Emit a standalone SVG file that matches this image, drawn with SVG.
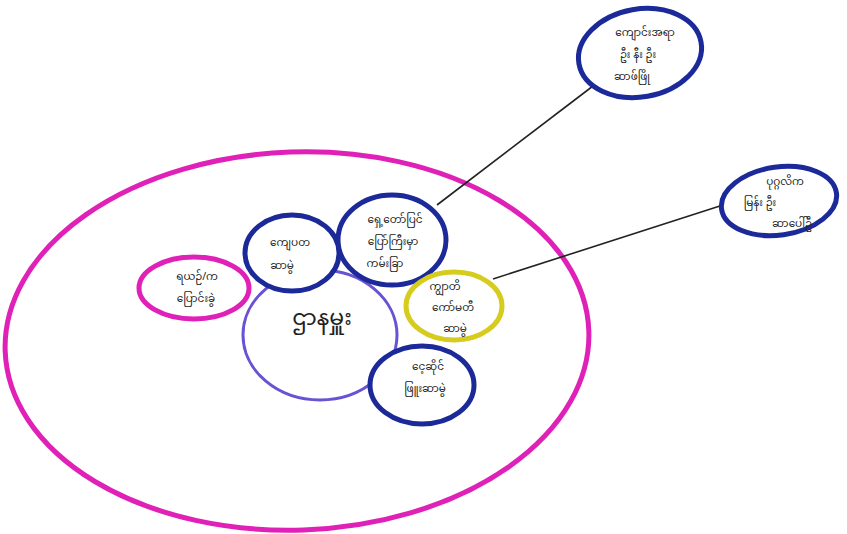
<svg xmlns="http://www.w3.org/2000/svg" width="847" height="534" viewBox="0 0 847 534">
<style>
.pink{fill:none;stroke:#e021b8;stroke-width:5}
.blue{fill:#fff;stroke:#1b2a98;stroke-width:5}
.yel{fill:#fff;stroke:#d6cc1e;stroke-width:5}
.pur{fill:#fff;stroke:#6a52d4;stroke-width:3}
.pinks{fill:#fff;stroke:#e021b8;stroke-width:5}
.lbl{font-family:"Noto Sans Myanmar","Padauk","Noto Sans","DejaVu Sans",sans-serif;font-size:10.5px;fill:#222;text-anchor:middle}
.big{font-size:22px}
.ln{stroke:#222;stroke-width:1.6;fill:none}
</style>
<rect width="847" height="534" fill="#fff"/>
<g id="outer"><ellipse class="pink" cx="297" cy="341" rx="292" ry="189" transform="rotate(-2 297 341)"/></g>
<g id="connectors">
<line class="ln" x1="437" y1="205" x2="593" y2="86"/>
<line class="ln" x1="493" y1="279" x2="723" y2="205"/>
</g>
<g id="n-topright"><ellipse class="blue" cx="640" cy="53" rx="62" ry="44" transform="rotate(-10 640 53)"/>
<text class="lbl" x="645" y="36">ကျောင်းအရာ</text><text class="lbl" x="638" y="58">ဦး နီး ဦး</text><text class="lbl" x="632" y="80">ဆာဖ်ဖြို</text></g>
<g id="n-right"><ellipse class="blue" cx="779" cy="201" rx="58" ry="34" transform="rotate(-8 779 201)"/>
<text class="lbl" x="785" y="185">ပုဂ္ဂလိက</text><text class="lbl" x="760" y="206">မြန်း ဦး</text><text class="lbl" x="792" y="227">ဆာပေါ်ဦ</text></g>
<g id="n-center"><ellipse class="pur" cx="320" cy="335" rx="77" ry="65"/>
<text class="lbl big" x="322" y="325">ဌာနမှူး</text></g>
<g id="n-left"><ellipse class="pinks" cx="194" cy="288" rx="55" ry="31"/>
<text class="lbl" x="197" y="280">ရယဉ်/က</text><text class="lbl" x="196" y="302">ပြောင်းခွဲ</text></g>
<g id="n-topleft"><ellipse class="blue" cx="292" cy="253" rx="47" ry="38"/>
<text class="lbl" x="290" y="246">ကျေပတ</text><text class="lbl" x="282" y="269">ဆာမွဲ</text></g>
<g id="n-topmid"><ellipse class="blue" cx="392" cy="240" rx="54" ry="45"/>
<text class="lbl" x="395" y="223">ရှေ့တော်ပြင်</text><text class="lbl" x="393" y="245">ပြော်ကြီးမှာ</text><text class="lbl" x="385" y="267">ကမ်းခြာ</text></g>
<g id="n-yellow"><ellipse class="yel" cx="454" cy="306" rx="48" ry="34"/>
<text class="lbl" x="445" y="290">ကျွာတိ</text><text class="lbl" x="453" y="311">ကော်မတီ</text><text class="lbl" x="455" y="332">ဆာမွဲ</text></g>
<g id="n-bottom"><ellipse class="blue" cx="422" cy="385" rx="52" ry="39"/>
<text class="lbl" x="428" y="370">ငေ့ဆိုင်</text><text class="lbl" x="425" y="392">ဖြူးဆာမွဲ</text></g>
</svg>
